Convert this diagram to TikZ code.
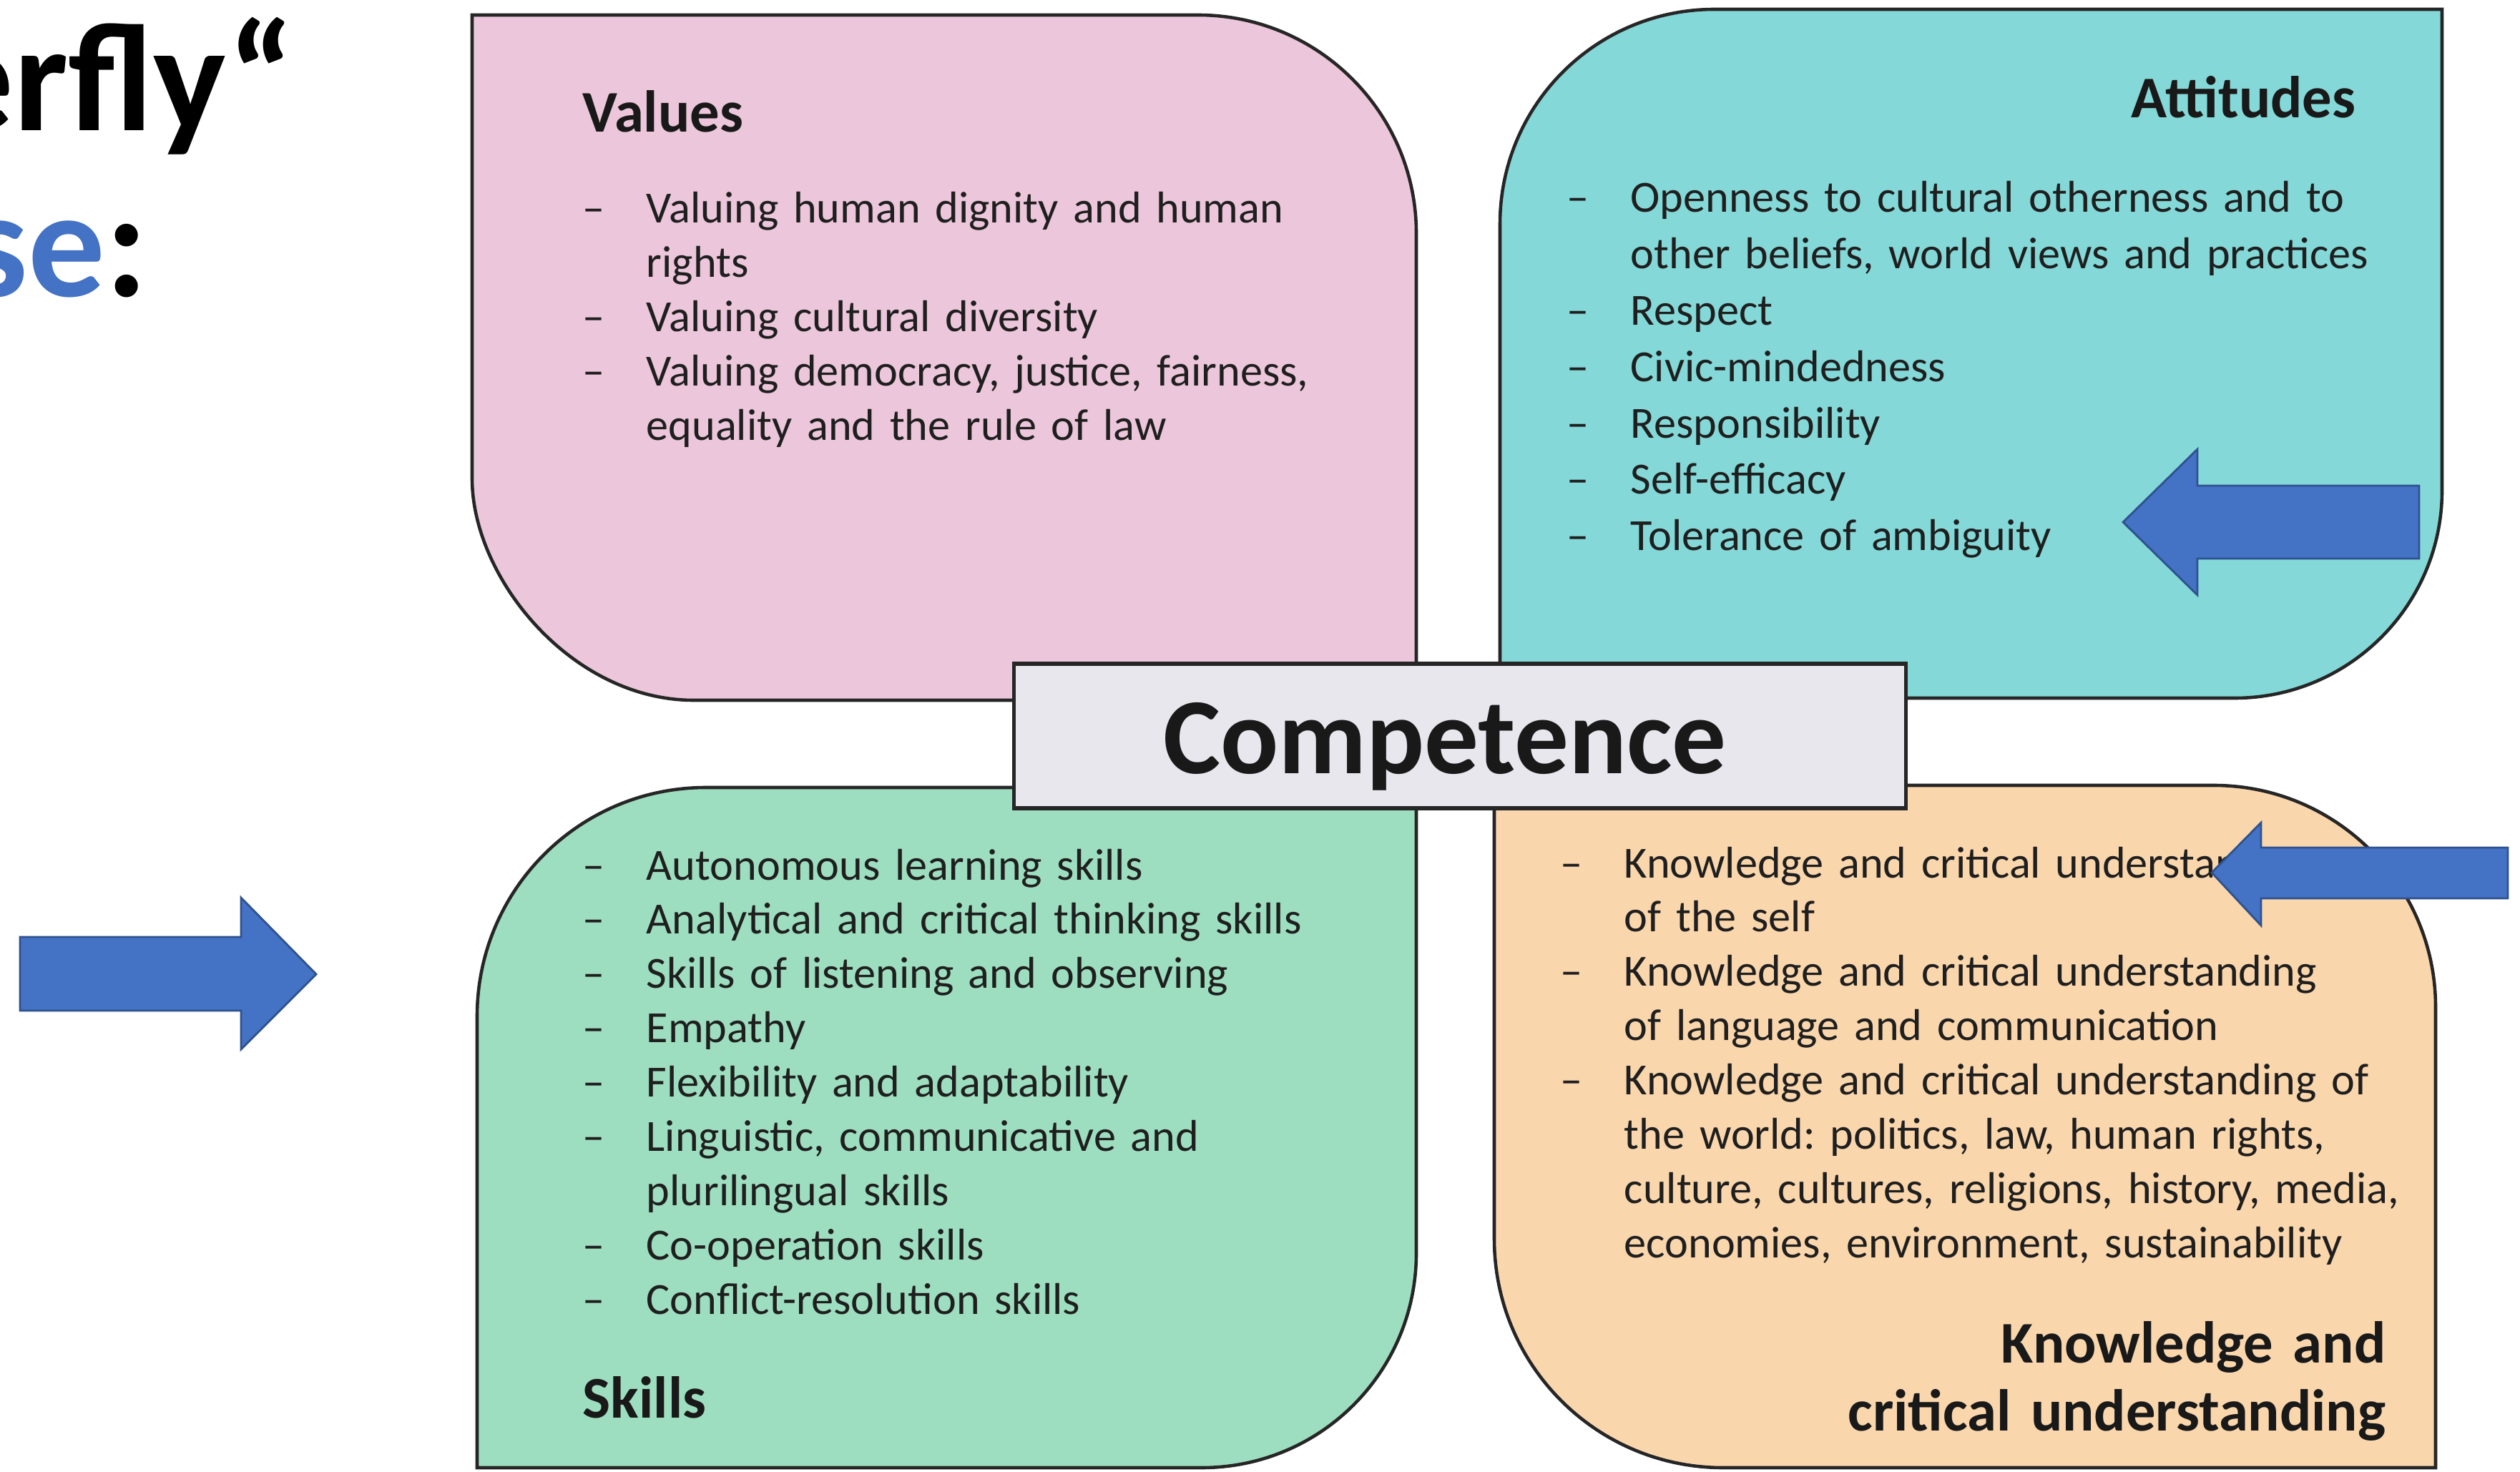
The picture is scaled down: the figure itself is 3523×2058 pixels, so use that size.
\documentclass[tikz,border=0pt]{standalone}
\usepackage{fontspec}
\setmainfont{Carlito}
\usepackage{xcolor}
\usepackage{tikz}
\frenchspacing

\newcommand{\dashitem}[1]{\hangindent=0.89cm\hangafter=1\makebox[0.89cm][l]{–}#1\par}

\begin{document}
\begin{tikzpicture}[x = 0.01cm, y = -0.01cm,
  box/.style = {draw = black!85, line width = 1.3pt},
  listtext/.style = {anchor = base west, inner sep = 0pt, text width = 12cm, align = left,
    font = \fontsize{17.7}{21.6}\selectfont, text = black!88},
  head/.style = {inner sep = 0pt, font = \bfseries\fontsize{23.5}{27.2}\selectfont, text = black!90},
  bigarrow/.style = {fill = arrowBlue, draw = arrowEdge, line width = 0.8pt}]
  \definecolor{valuesPink}{RGB}{236, 198, 218};
  \definecolor{attitudesTeal}{RGB}{132, 216, 216};
  \definecolor{skillsGreen}{RGB}{158, 222, 192};
  \definecolor{knowledgeOrange}{RGB}{250, 214, 172};
  \definecolor{compGray}{RGB}{233, 231, 238};
  \definecolor{arrowBlue}{RGB}{68, 114, 196};
  \definecolor{arrowEdge}{RGB}{47, 82, 143};

  \useasboundingbox (0, 0) rectangle (3523, 2058);

  % the four leaves
  \filldraw[box, fill = valuesPink] (660, 21) -- (1675, 21)
    .. controls (1843, 21) and (1980, 158) .. (1980, 326) -- (1980, 979) -- (970, 979)
    .. controls (799, 979) and (660, 808) .. (660, 669) -- cycle;
  \filldraw[box, fill = attitudesTeal] (2397, 13) -- (3414, 13) -- (3414, 686)
    .. controls (3414, 846) and (3284, 976) .. (3124, 976) -- (2097, 976) -- (2097, 313)
    .. controls (2097, 147) and (2231, 13) .. (2397, 13) -- cycle;
  \filldraw[box, fill = skillsGreen] (667, 1421)
    .. controls (667, 1244) and (810, 1101) .. (987, 1101) -- (1980, 1101) -- (1980, 1752)
    .. controls (1980, 1918) and (1846, 2052) .. (1680, 2052) -- (667, 2052) -- cycle;
  \filldraw[box, fill = knowledgeOrange] (2089, 1098) -- (3095, 1098)
    .. controls (3266, 1098) and (3405, 1237) .. (3405, 1408) -- (3405, 2052) -- (2409, 2052)
    .. controls (2232, 2052) and (2089, 1909) .. (2089, 1732) -- cycle;

  \node[box, fill = compGray, line width = 1.5pt, minimum width = 12.46cm, minimum height = 2.02cm,
    inner sep = 0pt] (compBox) at (2041, 1029) {};
  \node[anchor = base, inner sep = 0pt, font = \bfseries\fontsize{43}{50}\selectfont, text = black!90]
    (compText) at (2020, 1081) {Competence};

  % headings
  \node[head, anchor = base west] (valuesTitle) at (814, 185) {Values};
  \node[head, anchor = base east] (attitudesTitle) at (3294, 165) {Attitudes};
  \node[head, anchor = base west] (skillsTitle) at (814, 1982) {Skills};
  \node[head, anchor = base east, text width = 8cm, align = right] (knowledgeTitle) at (3336, 1905)
    {Knowledge and\\critical understanding};

  % lists
  \node[listtext] (valuesList) at (814, 312) {%
    \dashitem{Valuing human dignity and human\newline rights}%
    \dashitem{Valuing cultural diversity}%
    \dashitem{Valuing democracy, justice, fairness,\newline equality and the rule of law}};
  \node[listtext, font = \fontsize{17.7}{22.4}\selectfont] (attitudesList) at (2190, 297) {%
    \dashitem{Openness to cultural otherness and to\newline other beliefs, world views and practices}%
    \dashitem{Respect}%
    \dashitem{Civic-mindedness}%
    \dashitem{Responsibility}%
    \dashitem{Self-efficacy}%
    \dashitem{Tolerance of ambiguity}};
  \node[listtext] (skillsList) at (814, 1230) {%
    \dashitem{Autonomous learning skills}%
    \dashitem{Analytical and critical thinking skills}%
    \dashitem{Skills of listening and observing}%
    \dashitem{Empathy}%
    \dashitem{Flexibility and adaptability}%
    \dashitem{Linguistic, communicative and\newline plurilingual skills}%
    \dashitem{Co-operation skills}%
    \dashitem{Conflict-resolution skills}};
  \node[listtext] (knowledgeList) at (2181, 1227) {%
    \dashitem{Knowledge and critical understanding\newline of the self}%
    \dashitem{Knowledge and critical understanding\newline of language and communication}%
    \dashitem{Knowledge and critical understanding of\newline the world: politics, law, human rights,\newline
      culture, cultures, religions, history, media,\newline economies, environment, sustainability}};

  % slide title, cut at the left
  \node[anchor = base east, inner sep = 0pt, font = \bfseries\fontsize{61}{70}\selectfont]
    (slideTop) at (413, 183) {erfly“};
  \node[anchor = base east, inner sep = 0pt, font = \bfseries\fontsize{61}{70}\selectfont]
    (slideBottom) at (207, 415) {\textcolor{arrowBlue}{se}:};

  % blue arrows
  \filldraw[bigarrow] (28, 1310) -- (337, 1310) -- (337, 1255) -- (442, 1362)
    -- (337, 1467) -- (337, 1413) -- (28, 1413) -- cycle;
  \filldraw[bigarrow] (3382, 679) -- (3072, 679) -- (3072, 628) -- (2968, 730)
    -- (3072, 832) -- (3072, 781) -- (3382, 781) -- cycle;
  \filldraw[bigarrow] (3506, 1185) -- (3161, 1185) -- (3161, 1150) -- (3092, 1220)
    -- (3161, 1294) -- (3161, 1256) -- (3506, 1256) -- cycle;
\end{tikzpicture}
\end{document}
